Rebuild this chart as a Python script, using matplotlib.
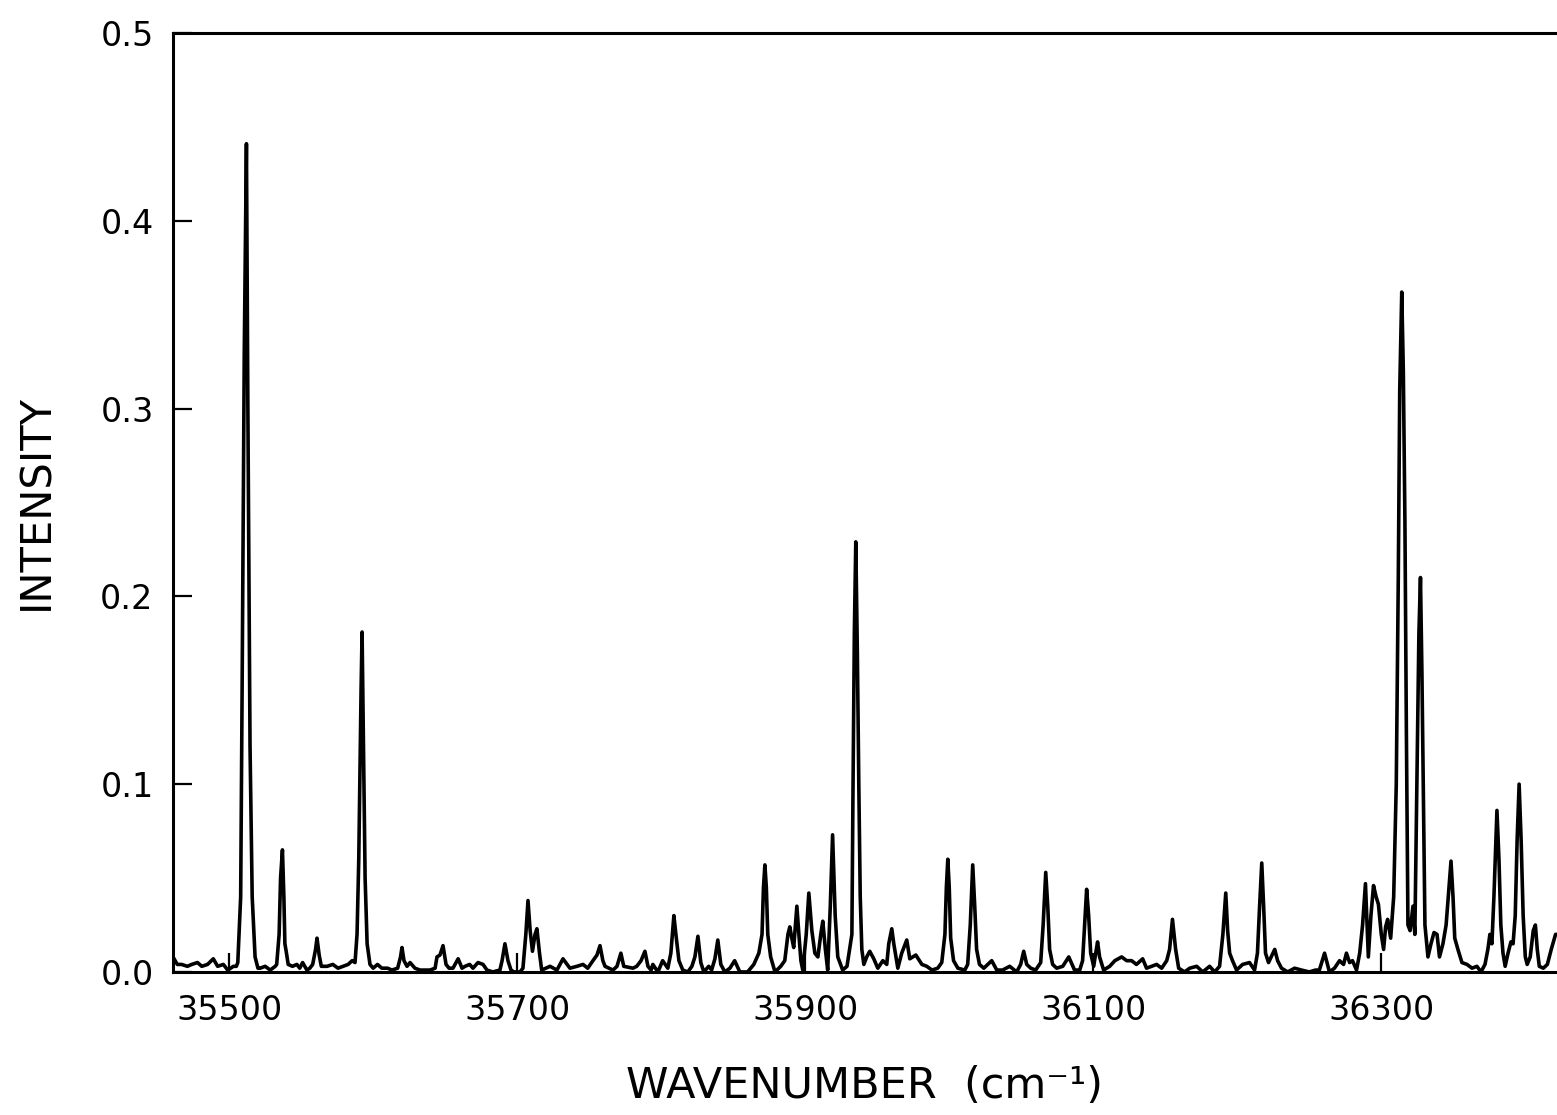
import matplotlib
matplotlib.use('Agg')
import matplotlib.pyplot as plt

# spectrum: wavenumber (cm-1) and intensity, row by row
wavenumber = [
    35461, 35464, 35467, 35471, 35474, 35478, 35481, 35485, 35489, 35492, 35496, 35499, 35503,
    35505, 35506, 35508, 35509, 35510.5, 35512, 35513, 35514.5, 35516, 35518, 35520,
    35521.5, 35525, 35528.5, 35532,
    35533, 35534.7, 35535.7, 35537, 35538, 35538.7, 35539.6, 35541,
    35544, 35547, 35549, 35551, 35554, 35556,
    35558, 35560, 35561, 35562.5, 35564,
    35568, 35572, 35575.6, 35579, 35582.6, 35585.4,
    35587.4, 35588.8, 35590, 35591.6, 35592.3, 35593.3, 35594.4, 35595.8, 35597.8,
    35600, 35603, 35606, 35610, 35613, 35617,
    35619, 35620, 35621.4, 35623.5,
    35625.6, 35629, 35632.5, 35639.5,
    35643, 35644.3, 35646.4, 35648.5, 35650.6, 35652.7,
    35655.4, 35659, 35661.7, 35663.8, 35667, 35669.3, 35672.8, 35676.3, 35679, 35683, 35688,
    35689.5, 35691.5, 35693.6, 35695.7, 35697.8, 35702,
    35704, 35706, 35707.5, 35709, 35710.6, 35712.4, 35713.7, 35715.5, 35717,
    35722.8, 35727.6, 35731.8, 35736.6, 35741.5, 35745.7, 35749, 35752.6,
    35755.4, 35757.5, 35759.5, 35761, 35766.5,
    35769.3, 35772, 35774, 35780.4, 35783,
    35786, 35788.7, 35790.8, 35793, 35794.2, 35797.7, 35801, 35804.6,
    35806.7, 35808.8, 35810.2, 35812.3, 35815, 35818.5, 35821.3,
    35823.4, 35825.5, 35827.5, 35829.6, 35833, 35835,
    35837.3, 35839.3, 35841.4, 35844.2, 35847.7, 35851, 35854.6, 35860, 35864.3, 35867.8,
    35870, 35871, 35872, 35873, 35874, 35876, 35879, 35883,
    35885.8, 35888, 35889.3, 35890.7, 35892, 35894.2, 35895.6, 35897, 35898.3, 35900.7,
    35902.5, 35904.6, 35906.7, 35908.8, 35910.8, 35912.2, 35914, 35915.6, 35917.4, 35919,
    35920.8, 35922.6, 35926, 35929,
    35932.4, 35933.1, 35934.1, 35935.1, 35936.2, 35937.2, 35938.2, 35939.3, 35940.7,
    35942.7, 35944.8, 35947.6, 35950.4, 35953.9, 35956.6, 35958, 35960.1, 35961.5, 35963.6,
    35964.3, 35967, 35970.5, 35972.6, 35976.8, 35981, 35984.4, 35988, 35992,
    35994.8, 35997, 35998, 35999, 36000, 36001, 36003, 36006, 36010.8,
    36012.8, 36014.6, 36016.3, 36017.7, 36019, 36021, 36024, 36029.5, 36033, 36037, 36042, 36046.8,
    36049.6, 36051.7, 36053.8, 36056.6, 36060,
    36063.5, 36065.2, 36067, 36068.4, 36069.7, 36071.8, 36074.6, 36078.8, 36083, 36087, 36090.6,
    36092.6, 36094, 36095.4, 36096.8, 36098.2, 36100.3, 36101.7, 36103, 36104.4, 36107.2,
    36111.4, 36115, 36119.7, 36123.2, 36126.6, 36130, 36134.3, 36137, 36140.5, 36144, 36147.5, 36151,
    36153, 36155, 36157.2, 36159.3, 36163.4, 36167, 36171.8, 36176, 36180.8, 36184.3, 36187.7,
    36190, 36192, 36193.3, 36194.7, 36196.7, 36199.5, 36203.7, 36208.5, 36212,
    36214, 36215.5, 36217, 36218.3, 36219.6, 36221.7, 36226, 36228, 36230.7, 36235, 36239.8,
    36244.6, 36250, 36254.3,
    36257, 36260.6, 36264, 36267.5, 36271, 36273.8, 36275.8, 36278, 36280, 36282.8, 36285,
    36287, 36289, 36291, 36292.8, 36294.6, 36296.4, 36298, 36300, 36301.6, 36303,
    36304.4, 36306.5, 36308.6, 36310.4, 36311.8, 36312.8, 36314.2, 36315.3, 36316.4, 36317.4,
    36318.5, 36320, 36322, 36323.3, 36324.7, 36326.1, 36327.2, 36328.2, 36329.3, 36330.3,
    36332.4, 36334.5, 36336.6, 36338.7, 36340.4, 36342.8, 36345, 36347, 36348.4, 36349.8,
    36351, 36353.2, 36356, 36359.5, 36363, 36366.4, 36369.2, 36372, 36374, 36375.4,
    36376.8, 36378.2, 36380.3, 36381.7, 36383, 36384.5, 36386, 36388, 36390, 36391.5,
    36393, 36394.3, 36395.7, 36397.1, 36398.5, 36400, 36401.3, 36403.4, 36405.5, 36407,
    36408.3, 36409.7, 36412.5, 36415.3, 36418, 36421, 36423,
]

intensity = [
    0.008, 0.004, 0.004, 0.003, 0.004, 0.005, 0.003, 0.004, 0.007, 0.003, 0.004, 0.001, 0.003,
    0.003, 0.005, 0.04, 0.15, 0.33, 0.441, 0.30, 0.12, 0.04, 0.008, 0.002,
    0.002, 0.003, 0.001, 0.003,
    0.004, 0.02, 0.05, 0.065, 0.04, 0.015, 0.011, 0.004,
    0.003, 0.004, 0.002, 0.005, 0.001, 0.002,
    0.004, 0.012, 0.018, 0.009, 0.003,
    0.003, 0.004, 0.002, 0.003, 0.004, 0.006,
    0.005, 0.02, 0.06, 0.15, 0.181, 0.12, 0.05, 0.015, 0.004,
    0.002, 0.004, 0.002, 0.002, 0.001, 0.002,
    0.008, 0.013, 0.006, 0.003,
    0.005, 0.002, 0.001, 0.001,
    0.002, 0.008, 0.009, 0.014, 0.004, 0.002,
    0.002, 0.007, 0.002, 0.003, 0.004, 0.002, 0.005, 0.004, 0.001, 0.0, 0.001,
    0.006, 0.015, 0.006, 0.001, 0.0, 0.0,
    0.002, 0.02, 0.038, 0.022, 0.011, 0.02, 0.023, 0.01, 0.001,
    0.003, 0.001, 0.007, 0.002, 0.003, 0.004, 0.002, 0.006,
    0.009, 0.014, 0.006, 0.003, 0.001,
    0.003, 0.010, 0.003, 0.002, 0.003,
    0.006, 0.011, 0.003, 0.001, 0.004, 0.0, 0.006, 0.002,
    0.01, 0.030, 0.02, 0.006, 0.001, 0.0, 0.003,
    0.008, 0.019, 0.005, 0.0, 0.003, 0.001,
    0.007, 0.017, 0.004, 0.0, 0.002, 0.006, 0.0, 0.0, 0.004, 0.010,
    0.02, 0.045, 0.057, 0.045, 0.02, 0.008, 0.0, 0.003,
    0.006, 0.02, 0.024, 0.018, 0.013, 0.035, 0.02, 0.006, 0.001, 0.02,
    0.042, 0.022, 0.010, 0.008, 0.02, 0.027, 0.012, 0.001, 0.035, 0.073,
    0.03, 0.008, 0.001, 0.003,
    0.02, 0.09, 0.18, 0.229, 0.17, 0.10, 0.04, 0.012, 0.004,
    0.008, 0.011, 0.007, 0.002, 0.006, 0.004, 0.015, 0.023, 0.015, 0.005,
    0.002, 0.010, 0.017, 0.007, 0.009, 0.004, 0.003, 0.001, 0.002,
    0.005, 0.02, 0.045, 0.060, 0.045, 0.018, 0.006, 0.002, 0.001,
    0.004, 0.025, 0.057, 0.035, 0.012, 0.004, 0.002, 0.006, 0.001, 0.001, 0.003, 0.0,
    0.004, 0.011, 0.004, 0.002, 0.001,
    0.005, 0.025, 0.053, 0.035, 0.012, 0.004, 0.002, 0.003, 0.008, 0.001, 0.001,
    0.006, 0.025, 0.044, 0.03, 0.01, 0.003, 0.01, 0.016, 0.008, 0.001,
    0.003, 0.006, 0.008, 0.006, 0.006, 0.004, 0.007, 0.002, 0.003, 0.004, 0.002, 0.006,
    0.012, 0.028, 0.012, 0.002, 0.0, 0.002, 0.003, 0.0, 0.003, 0.0, 0.003,
    0.02, 0.042, 0.022, 0.01, 0.006, 0.001, 0.004, 0.005, 0.001,
    0.01, 0.035, 0.058, 0.035, 0.01, 0.005, 0.012, 0.006, 0.002, 0.0, 0.002,
    0.001, 0.0, 0.001,
    0.001, 0.010, 0.0, 0.002, 0.006, 0.004, 0.010, 0.005, 0.006, 0.001, 0.01,
    0.025, 0.047, 0.008, 0.03, 0.046, 0.04, 0.036, 0.02, 0.012, 0.024,
    0.028, 0.018, 0.04, 0.10, 0.21, 0.31, 0.362, 0.32, 0.24, 0.13,
    0.025, 0.022, 0.035, 0.02, 0.10, 0.18, 0.21, 0.16, 0.09, 0.025,
    0.008, 0.015, 0.021, 0.02, 0.008, 0.015, 0.025, 0.045, 0.059, 0.04,
    0.018, 0.012, 0.005, 0.004, 0.002, 0.003, 0.0, 0.004, 0.012, 0.02,
    0.015, 0.04, 0.086, 0.06, 0.025, 0.01, 0.003, 0.01, 0.016, 0.015,
    0.03, 0.07, 0.10, 0.07, 0.03, 0.008, 0.004, 0.008, 0.022, 0.025,
    0.012, 0.003, 0.002, 0.004, 0.012, 0.02, 0.02,
]

x_ticks = [35500, 35700, 35900, 36100, 36300]
y_ticks = [0.0, 0.1, 0.2, 0.3, 0.4, 0.5]

fig = plt.figure(figsize=(15.57, 11.15), dpi=100)
ax = fig.add_axes([0.1111, 0.1283, 0.8889, 0.8422])

ax.plot(wavenumber, intensity, color='black', linewidth=2.6, solid_joinstyle='round')

ax.set_xlim(35461, 36422)
ax.set_ylim(0, 0.5)
ax.set_xticks(x_ticks)
ax.set_xticklabels([str(t) for t in x_ticks])
ax.set_yticks(y_ticks)
ax.set_yticklabels(['%.1f' % t for t in y_ticks])

ax.spines['right'].set_visible(False)
for side in ['left', 'top', 'bottom']:
    ax.spines[side].set_linewidth(2.2)
ax.tick_params(axis='both', direction='in', length=14, width=1.6, labelsize=24)
ax.tick_params(axis='x', pad=16)
ax.tick_params(axis='y', pad=14)
ax.tick_params(top=False, right=False)

ax.set_xlabel('WAVENUMBER  (cm⁻¹)', fontsize=31, labelpad=27)
ax.set_ylabel('INTENSITY', fontsize=30, labelpad=31)

fig.savefig('out.png', dpi=100)
